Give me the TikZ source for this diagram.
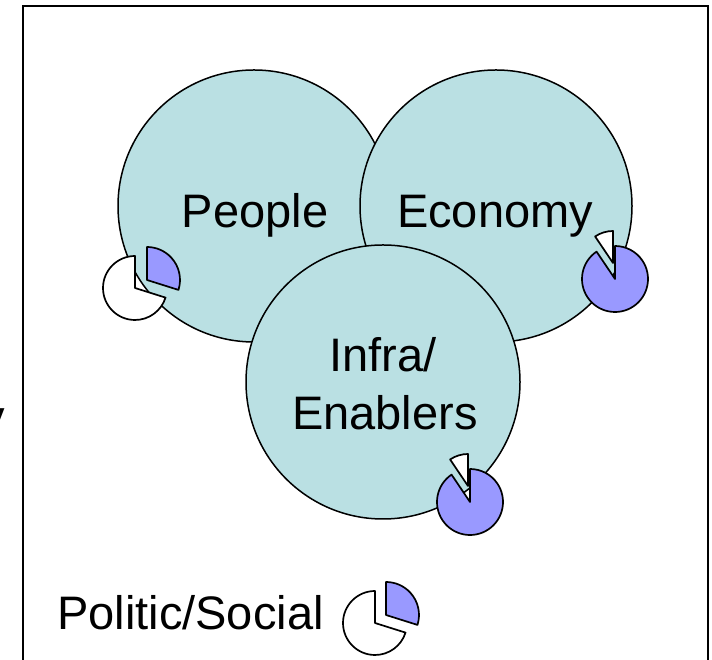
\documentclass[tikz,border=0pt]{standalone}
\usepackage{fontspec}
\setmainfont{Liberation Sans}
\definecolor{circfill}{RGB}{186,224,227}
\definecolor{pieblue}{RGB}{153,153,255}
\tikzset{
  zone/.style={circle, draw=black, line width=1.5pt, fill=circfill, inner sep=0pt, minimum size=#1},
  slice/.style={draw=black, line width=1.7pt, line join=round},
  lbl/.style={font=\fontsize{47}{56}\selectfont, inner sep=0pt, anchor=base},
}
\begin{document}
\begin{tikzpicture}[x=1pt,y=1pt]
\useasboundingbox (0,0) rectangle (712,660);
\fill[white] (0,0) rectangle (712,660);
% frame
\coordinate (fbl) at (23,-20);
\coordinate (ftl) at (23,654);
\coordinate (ftr) at (708,654);
\coordinate (fbr) at (708,-20);
\draw[line width=2pt] (fbl) -- (ftl) -- (ftr) -- (fbr);
% cut-off letter at the left edge
\node[lbl, anchor=base west] (cut) at (-19,226) {y};
% circles
\node[zone=272pt] (people) at (254,454) {};
\node[zone=272pt] (economy) at (496,454) {};
\node[zone=274pt] (infra) at (383,278) {};
% labels
\node[lbl] (tpeople) at (255,432) {People};
\node[lbl] (teconomy) at (495,432) {Economy};
\node[lbl] (tinfraA) at (383,288) {Infra/};
\node[lbl] (tinfraB) at (385,230) {Enablers};
\node[lbl, anchor=base west] (tlegend) at (57,30) {Politic/Social};
% People pie
\filldraw[slice, fill=white] (135,372) -- ++(90:32) arc[start angle=90, end angle=342.5, radius=32] -- cycle;
\filldraw[slice, fill=pieblue] (147,380) -- ++(-17.5:33) arc[start angle=-17.5, end angle=90, radius=33] -- cycle;
% Economy pie
\filldraw[slice, fill=pieblue] (615,381) -- ++(124:33) arc[start angle=124, end angle=450, radius=33] -- cycle;
\filldraw[slice, fill=white] (613,397) -- ++(90:32) arc[start angle=90, end angle=124, radius=32] -- cycle;
% Infra pie
\filldraw[slice, fill=pieblue] (470,158) -- ++(124:33) arc[start angle=124, end angle=450, radius=33] -- cycle;
\filldraw[slice, fill=white] (468,174) -- ++(90:32) arc[start angle=90, end angle=124, radius=32] -- cycle;
% legend pie
\filldraw[slice, fill=white] (375,37) -- ++(90:32) arc[start angle=90, end angle=342.5, radius=32] -- cycle;
\filldraw[slice, fill=pieblue] (386,45) -- ++(-17.5:33) arc[start angle=-17.5, end angle=90, radius=33] -- cycle;
\end{tikzpicture}
\end{document}
